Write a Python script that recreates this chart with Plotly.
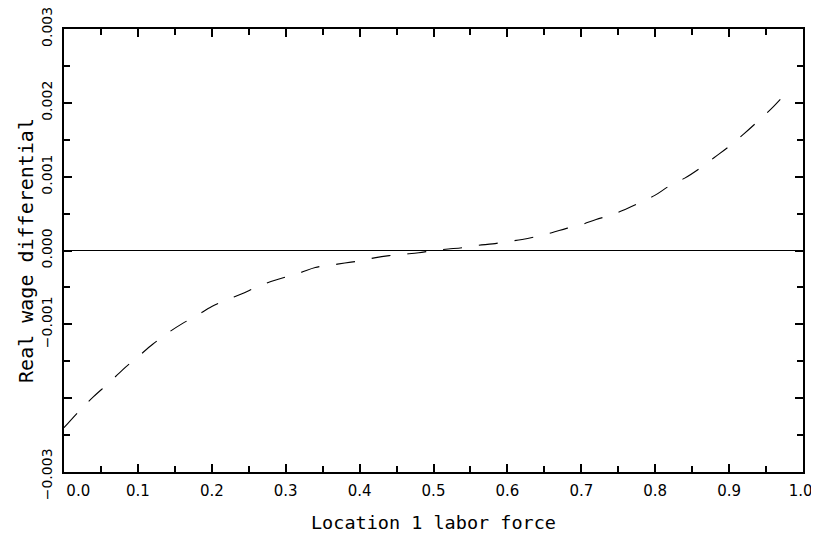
import plotly.graph_objects as go

labor_force = [0.0, 0.02, 0.04, 0.06, 0.08, 0.10, 0.12, 0.14, 0.16, 0.18, 0.20,
               0.22, 0.24, 0.26, 0.28, 0.30, 0.32, 0.34, 0.36, 0.38, 0.40,
               0.42, 0.44, 0.46, 0.48, 0.50, 0.52, 0.54, 0.56, 0.58, 0.60,
               0.62, 0.64, 0.66, 0.68, 0.70, 0.72, 0.74, 0.76, 0.78, 0.80,
               0.82, 0.84, 0.86, 0.88, 0.90, 0.92, 0.94, 0.96, 0.975]
wage_diff = [-0.00240, -0.00218, -0.00198, -0.00180, -0.00161, -0.00144, -0.00127,
             -0.00112, -0.00099, -0.00088, -0.00076, -0.00067, -0.00059, -0.00050,
             -0.00042, -0.00036, -0.00030, -0.00023, -0.00020, -0.00017, -0.00014,
             -0.00010, -0.00007, -0.00005, -0.00003, 0.0, 0.00002, 0.00004, 0.00007,
             0.00009, 0.00012, 0.00015, 0.00019, 0.00024, 0.00030, 0.00035, 0.00042,
             0.00048, 0.00056, 0.00065, 0.00075, 0.00088, 0.00098, 0.00111, 0.00126,
             0.00141, 0.00158, 0.00176, 0.00195, 0.00211]

NB = "\u00a0"
x_ticks = [0.0, 0.1, 0.2, 0.3, 0.4, 0.5, 0.6, 0.7, 0.8, 0.9, 1.0]
x_tick_labels = [NB * 6 + "0.0", "0.1", "0.2", "0.3", "0.4", "0.5", "0.6", "0.7",
                 "0.8", "0.9", "1.0" + NB]
y_ticks = [-0.003, -0.002, -0.001, 0.0, 0.001, 0.002, 0.003]
y_tick_labels = ["\u22120.003" + NB * 2, "", "\u22120.001", "0.000", "0.001", "0.002", "0.003"]

FONT = "DejaVu Sans"
TITLE_FONT = "DejaVu Sans Mono"

fig = go.Figure()
fig.add_trace(go.Scatter(
    x=labor_force, y=wage_diff, mode="lines",
    line=dict(color="black", width=1.1, dash="19px,17px", shape="spline"),
    showlegend=False, hoverinfo="skip",
))

# the page body has an 8px margin, so margins are offset by 8px
fig.update_layout(
    width=819, height=537,
    margin=dict(l=56, r=24, t=21, b=73),
    paper_bgcolor="white", plot_bgcolor="white",
    font=dict(family=FONT, size=15, color="black"),
    xaxis=dict(
        range=[0, 1], tickvals=x_ticks, ticktext=x_tick_labels,
        ticks="inside", ticklen=8, tickwidth=1.5, tickcolor="black",
        minor=dict(dtick=0.05, ticks="inside", ticklen=6, tickwidth=1.5, tickcolor="black"),
        showline=True, linecolor="black", linewidth=2, mirror="ticks",
        showgrid=False, zeroline=False, automargin=False,
        ticklabelstandoff=4, ticklabeloverflow="allow",
        title=dict(text="Location 1 labor force", font=dict(family=TITLE_FONT, size=18.5), standoff=17),
        tickfont=dict(size=15),
    ),
    yaxis=dict(
        range=[-0.003, 0.003], tickvals=y_ticks, ticktext=y_tick_labels,
        tickangle=-90,
        ticks="inside", ticklen=8, tickwidth=1.5, tickcolor="black",
        minor=dict(dtick=0.0005, ticks="inside", ticklen=6, tickwidth=1.5, tickcolor="black"),
        showline=True, linecolor="black", linewidth=2, mirror="ticks",
        showgrid=False, zeroline=True, zerolinecolor="black", zerolinewidth=1.2,
        automargin=False, ticklabelstandoff=4, ticklabeloverflow="allow",
        title=dict(text="Real wage differential", font=dict(family=TITLE_FONT, size=20), standoff=0),
        tickfont=dict(size=14),
    ),
)

fig.write_html("out.html")
